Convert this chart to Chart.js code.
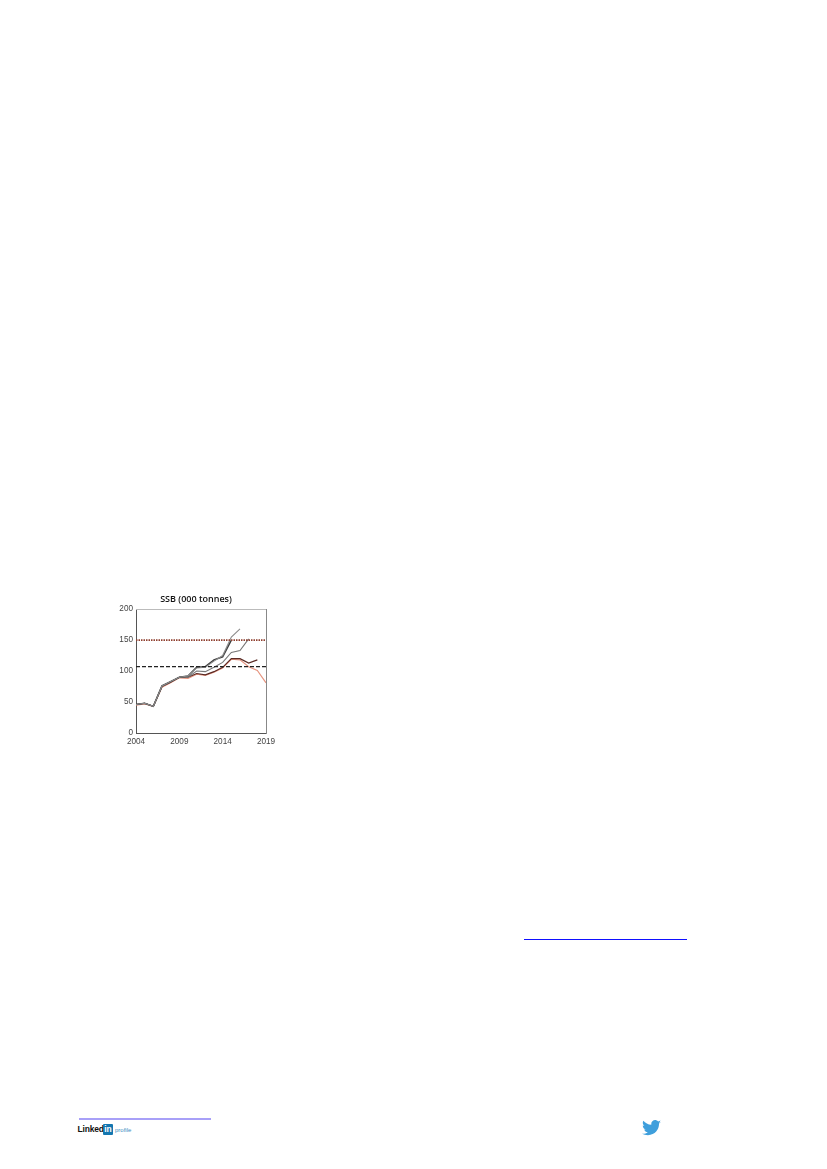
<!DOCTYPE html>
<html>
<head>
<meta charset="utf-8">
<style>
html,body{margin:0;padding:0;background:#fff;width:827px;height:1169px;overflow:hidden}
#wrap{position:absolute;left:100px;top:585px;width:192px;height:170px;filter:blur(0.4px)}
.abs{position:absolute}
</style>
<script src="https://cdn.jsdelivr.net/npm/chart.js@4"></script>
</head>
<body>
<div id="wrap"><canvas id="c" width="192" height="170"></canvas></div>
<div class="abs" style="left:524px;top:938.6px;width:163px;height:1.8px;background:#0f0fff"></div>
<div class="abs" style="left:79px;top:1118px;width:132px;height:2px;background:#a8a0f8"></div>
<div class="abs" style="left:77.500px;top:1124px;font:bold 8.500px 'Liberation Sans';color:#111;letter-spacing:-0.2px;line-height:11px">Linked</div>
<div class="abs" style="left:103px;top:1124px;width:10px;height:11px;background:#1477b0;border-radius:1px;color:#fff;font:bold 8.5px 'Liberation Sans';text-align:center;line-height:11px">in</div>
<div class="abs" style="left:115px;top:1125px;font:6px 'Liberation Sans';color:#3a8fc4;line-height:10px">profile</div>
<svg class="abs" style="left:642px;top:1120px" width="19" height="16" viewBox="0 0 24 20"><path fill="#3f9fdc" d="M24 2.4c-.9.4-1.8.7-2.8.8 1-.6 1.8-1.6 2.2-2.7-1 .6-2 1-3.100 1.200C19.300.7 18 0 16.600 0c-2.700 0-4.900 2.200-4.900 4.900 0 .4 0 .8.100 1.100C7.700 5.800 4.100 3.900 1.700.9c-.4.700-.7 1.600-.7 2.500 0 1.700.9 3.200 2.200 4.100-.8 0-1.600-.2-2.200-.6v.1c0 2.400 1.700 4.400 3.900 4.800-.4.100-.8.200-1.300.2-.3 0-.6 0-.9-.1.600 2 2.400 3.400 4.600 3.400-1.700 1.300-3.800 2.100-6.100 2.100-.4 0-.8 0-1.200-.1C2.200 18.200 4.800 19 7.500 19c9.100 0 14-7.500 14-14v-.6c1-.7 1.800-1.600 2.500-2z"/></svg>
<script>
const years = [2004,2005,2006,2007,2008,2009,2010,2011,2012,2013,2014,2015,2016,2017,2018,2019];
const vintageA = [45,47,43,74,81,89,88,95,93,98,105,119,118,107,101,81];
const vintageB = [46,48,43,75,82,90,90,96,94,99,106,120,120,113,118];
const vintageC = [46,48,43,76,83,90,90,100,99,106,114,130,133,152];
const vintageD = [46,48,43,76,83,90,92,105,106,116,125,155,168];
const vintageE = [46,48,43,76,83,90,92,106,107,118,123,150];
const limitX = [2004,2019];
const upperRef = [150,150];
const lowerRef = [107,107];
const xTicks = [2004,2009,2014,2019];
const yTicks = [0,50,100,150,200];
const titleText = 'SSB (000 tonnes)';

const toPts = (xs, ys) => ys.map((v,i)=>({x:xs[i],y:v}));
const line = (label,data,color,width,dash) => ({label,data,borderColor:color,borderWidth:width,borderDash:dash||[],pointRadius:0,fill:false,tension:0});
const tickFont = {family:'Liberation Sans',size:8.2};
const fix = (prop,val) => (s)=>{s[prop]=val;};

new Chart(document.getElementById('c'),{
  type:'line',
  data:{datasets:[
    line('limit',toPts(limitX,upperRef),'#8f4030',1.8,[1.5,1]),
    line('trigger',toPts(limitX,lowerRef),'#222',1.3,[4,2]),
    line('2016',toPts(years,vintageD),'#8c8c8c',1.1),
    line('2015',toPts(years,vintageE),'#3f3f3f',1.5),
    line('2017',toPts(years,vintageC),'#777',1.1),
    line('2018',toPts(years,vintageB),'#5a2a24',1.2),
    line('2019',toPts(years,vintageA),'#e6947f',1.1)
  ]},
  options:{
    responsive:false,animation:false,devicePixelRatio:1,
    layout:{padding:0},
    plugins:{
      legend:{display:false},tooltip:{enabled:false},
      title:{display:true,text:titleText,color:'#111',font:{family:'Open Sans',size:9,weight:'600'},padding:{top:9,bottom:0}}
    },
    scales:{
      x:{type:'linear',min:2004,max:2019,position:'bottom',afterFit:fix('height',22),
        afterBuildTicks:s=>{s.ticks=xTicks.map(v=>({value:v}));},
        grid:{display:false,drawTicks:true,tickLength:3},border:{color:'#555',width:1},
        ticks:{font:tickFont,color:'#444',padding:1,maxRotation:0,autoSkip:false,callback:v=>String(v)}},
      y:{type:'linear',min:0,max:200,position:'left',afterFit:fix('width',36),
        afterBuildTicks:s=>{s.ticks=yTicks.map(v=>({value:v}));},
        grid:{display:false,tickLength:2},border:{color:'#555',width:1},
        ticks:{font:tickFont,color:'#444',padding:1}},
      xTop:{type:'linear',min:2004,max:2019,position:'top',afterFit:fix('height',4.3),
        grid:{display:false,drawTicks:false},border:{color:'#bbb',width:1},ticks:{display:false}},
      yRight:{type:'linear',min:0,max:200,position:'right',afterFit:fix('width',26),
        grid:{display:false,drawTicks:false},border:{color:'#888',width:1},ticks:{display:false}}
    }
  }
});
</script>
</body>
</html>
